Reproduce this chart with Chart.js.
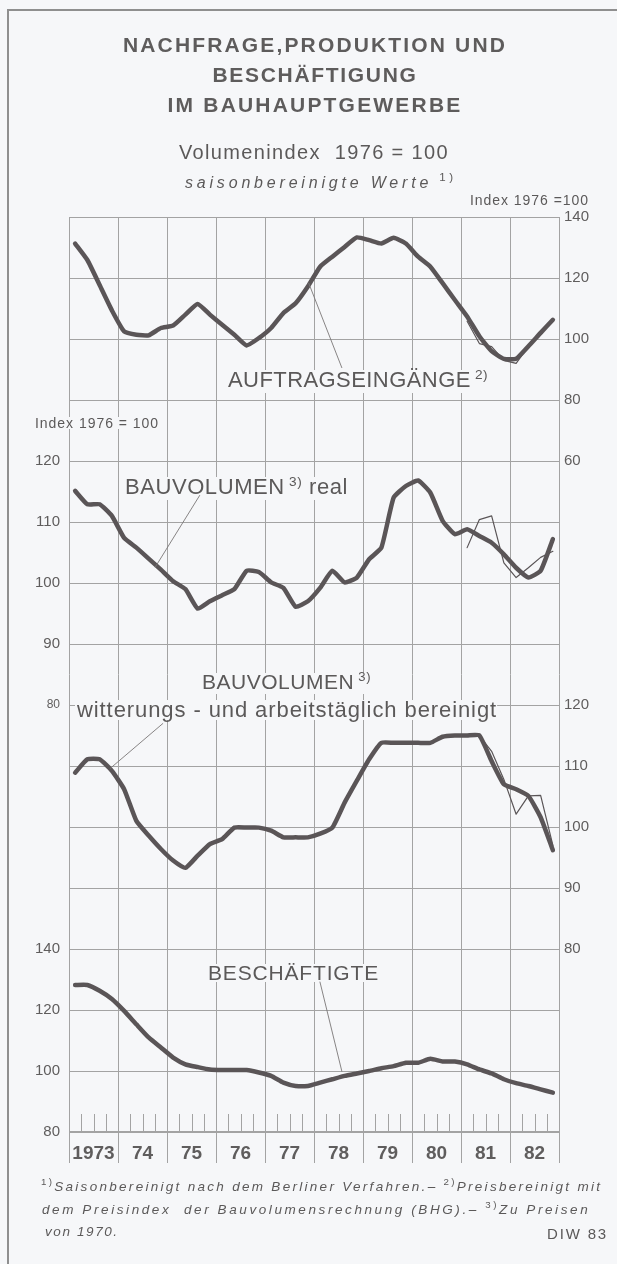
<!DOCTYPE html>
<html><head><meta charset="utf-8">
<script src="https://cdn.jsdelivr.net/npm/chart.js@4.4.1/dist/chart.umd.min.js"></script>
<style>
html,body{margin:0;padding:0;background:#f6f7f9;}
#wrap{position:relative;width:617px;height:1264px;overflow:hidden;background:#f6f7f9;font-family:'Liberation Sans',Arial,sans-serif;color:#5b5959;}
#frame{position:absolute;left:7px;top:9px;width:700px;height:1400px;border-left:2px solid #8f8f8f;border-top:2px solid #8f8f8f;}
#c{position:absolute;left:0;top:0;}
.t{position:absolute;white-space:nowrap;z-index:2;}
.t sup{font-size:62%;vertical-align:0;position:relative;top:-0.6em;}
.it{font-style:italic;}
.it sup{font-style:normal;font-size:72%;}
</style></head><body><div id="wrap">
<div id="frame"></div>
<canvas id="c" width="617" height="1264"></canvas>

<div class="t fit" style="left:315px;top:34px;font-size:21px;line-height:22px;font-weight:bold;color:#5e5c5c;transform:translateX(-50%)" data-w="384">NACHFRAGE,PRODUKTION UND</div>
<div class="t fit" style="left:315px;top:64px;font-size:21px;line-height:22px;font-weight:bold;color:#5e5c5c;transform:translateX(-50%)" data-w="205">BESCHÄFTIGUNG</div>
<div class="t fit" style="left:315px;top:94px;font-size:21px;line-height:22px;font-weight:bold;color:#5e5c5c;transform:translateX(-50%)" data-w="295">IM BAUHAUPTGEWERBE</div>
<div class="t fit" style="left:314px;top:141px;font-size:20px;line-height:22px;transform:translateX(-50%)" data-w="270">Volumenindex&nbsp; 1976 = 100</div>
<div class="t fit it" style="left:321px;top:174px;font-size:16px;line-height:18px;transform:translateX(-50%)" data-w="272">saisonbereinigte Werte<sup>&nbsp;1)</sup></div>
<div class="t fit" style="right:28px;top:192px;font-size:14px;line-height:16px;" data-w="119">Index 1976 =100</div>
<div class="t fit mask" style="left:35px;top:415px;font-size:14px;line-height:16px;" data-w="124">Index 1976 = 100</div>

<div class="t fit mask" style="left:228px;top:368px;font-size:22px;line-height:24px;" data-w="260">AUFTRAGSEINGÄNGE<sup>&nbsp;2)</sup></div>
<div class="t fit mask" style="left:125px;top:475px;font-size:22px;line-height:24px;" data-w="223">BAUVOLUMEN<sup>&nbsp;3)</sup> real</div>
<div class="t fit mask" style="left:202px;top:671px;font-size:21px;line-height:22px;" data-w="169">BAUVOLUMEN<sup>&nbsp;3)</sup></div>
<div class="t fit mask" style="left:77px;top:698px;font-size:22px;line-height:24px;" data-w="420">witterungs - und arbeitstäglich bereinigt</div>
<div class="t fit mask" style="left:208px;top:962px;font-size:21px;line-height:22px;" data-w="171">BESCHÄFTIGTE</div>

<div class="t fit it" style="left:41px;top:1179px;font-size:13.5px;line-height:16px;" data-w="561"><sup>1)</sup>Saisonbereinigt nach dem Berliner Verfahren.– <sup>2)</sup>Preisbereinigt mit</div>
<div class="t fit it" style="left:42px;top:1202px;font-size:13.5px;line-height:16px;" data-w="548">dem Preisindex&nbsp; der Bauvolumensrechnung (BHG).– <sup>3)</sup>Zu Preisen</div>
<div class="t it" style="left:45px;top:1224px;font-size:13.5px;line-height:16px;letter-spacing:1.6px;">von 1970.</div>
<div class="t fit" style="right:9px;top:1226px;font-size:15px;line-height:16px;" data-w="61">DIW 83</div>
</div>
<script>
// ---- data (quarterly, saisonbereinigt) ----
const years = ['1973','74','75','76','77','78','79','80','81','82'];
const quarterNames = ['I','II','III','IV'];
const quarterCats = years.flatMap(y => quarterNames.map(q => y + ' ' + q));

const auftrag = [131.3,125.9,117.7,109.4,102.5,101.4,101.2,103.6,104.4,108,
                 111.5,108,104.7,101.4,97.9,100.3,103.6,108.5,111.7,117.2,
                 123.7,127,130.2,133.3,132.4,131.3,133.2,131.3,127,123.7,
                 118.3,112.8,107.4,100.9,96,93.5,93.5,97.6,102,106.3];
const auftragVariant = [null,null,null,null,null,null,null,null,null,null,
                 null,null,null,null,null,null,null,null,null,null,
                 null,null,null,null,null,null,null,null,null,null,
                 null,null,105.8,98.5,97.5,93,92,97.6,null,null];
const bauReal = [115.1,112.9,112.9,111,107.4,105.8,104,102.2,100.3,99,
                 95.8,97,98,99,102,101.8,100.1,99.2,96.1,97,
                 99.2,102,100.1,100.9,103.9,105.8,114,115.9,116.8,114.8,
                 110.2,108,108.8,107.7,106.6,104.7,102.5,100.9,102,107.2];
const bauRealVariant = [null,null,null,null,null,null,null,null,null,null,
                 null,null,null,null,null,null,null,null,null,null,
                 null,null,null,null,null,null,null,null,null,null,
                 null,null,105.8,110.4,111,103.3,100.9,102.5,104.2,105.2];
const bauWitt = [108.9,111.1,111.1,109.2,106.2,101,98.6,96.4,94.5,93.3,
                 95.3,97.2,98,99.9,99.9,99.9,99.4,98.3,98.3,98.3,
                 98.9,99.9,104,107.6,111.1,113.8,113.8,113.8,113.8,113.8,
                 114.8,115,115,115,110.8,107,106.2,105.1,101.6,96.2];
const bauWittVariant = [null,null,null,null,null,null,null,null,null,null,
                 null,null,null,null,null,null,null,null,null,null,
                 null,null,null,null,null,null,null,null,null,null,
                 null,null,null,115,112.4,107.8,102.1,105.1,105.2,97];
const besch = [128.2,128.2,126.3,123.6,119.7,115.3,111,107.7,104.4,102.2,
               101.3,100.5,100.3,100.3,100.3,99.5,98.4,96.2,95.1,95.1,
               96.2,97.3,98.4,99.2,100,100.9,101.6,102.7,102.7,104,
               103.1,103.1,102.2,100.5,99.2,97.3,96,95.1,94,92.9];

const auftragTicks = [60,80,100,120,140];
const bauRealTicks = [80,90,100,110,120];
const bauWittTicks = [80,90,100,110,120];
const beschTicks   = [80,100,120,140];

// ---- styling / layout ----
const BG = '#f6f7f9', LINE = '#5a5557', GRID = '#a3a3a3', TXT = '#5f5d5d';
const FONT = "'Liberation Sans', Arial, sans-serif";
const ROWS = 15;   // grid rows over the whole plot height
// value ranges of the four overlaid series axes (each spans the full plot height)
const rangeA = {min:-160, max:140}, rangeB = {min:10, max:160},
      rangeC = {min:50, max:200},  rangeD = {min:80, max:380};
const leftSide  = [{r:rangeB, t:bauRealTicks, small:80}, {r:rangeD, t:beschTicks}];
const rightSide = [{r:rangeA, t:auftragTicks}, {r:rangeC, t:bauWittTicks}];

function fitText(){
  document.querySelectorAll('.fit').forEach(el => {
    el.style.letterSpacing = '0px';
    const w = el.getBoundingClientRect().width;
    const n = el.textContent.length;
    const ls = (parseFloat(el.dataset.w) - w) / n;
    el.style.letterSpacing = ls.toFixed(2) + 'px';
  });
}

// leader lines: x in years (x2 scale), y in the series' own axis units
const leaders = [
  {ax:'yA', x1:5.57, y1:90.5,  x2:4.89, y2:118.4},
  {ax:'yB', x1:2.67, y1:114.4, x2:1.76, y2:102.6},
  {ax:'yC', x1:1.92, y1:117.0, x2:0.84, y2:109.6},
  {ax:'yD', x1:5.12, y1:129.3, x2:5.57, y2:99.8}
];

const deco = {
  id:'deco',
  beforeDatasetsDraw(chart){
    const c = chart.ctx, a = chart.chartArea, xs = chart.scales.x2;
    const wr = document.getElementById('wrap').getBoundingClientRect();
    c.save();
    c.fillStyle = BG;
    document.querySelectorAll('.mask').forEach(el => {
      const r = el.getBoundingClientRect();
      c.fillRect(r.left - wr.left - 2, r.top - wr.top + 2, r.width + 2, r.height - 4);
    });
    c.strokeStyle = GRID; c.lineWidth = 1;
    for (let y = 0; y < years.length; y++) {
      for (let q = 1; q < 4; q++) {
        const px = Math.round(xs.getPixelForValue(y + q/4)) + 0.5;
        c.beginPath(); c.moveTo(px, a.bottom); c.lineTo(px, a.bottom - 18); c.stroke();
      }
    }
    c.restore();
  },
  afterDatasetsDraw(chart){
    const c = chart.ctx, xs = chart.scales.x2;
    c.save();
    c.strokeStyle = '#7a7777'; c.lineWidth = 0.9;
    leaders.forEach(l => {
      const ys = chart.scales[l.ax];
      c.beginPath();
      c.moveTo(xs.getPixelForValue(l.x1), ys.getPixelForValue(l.y1));
      c.lineTo(xs.getPixelForValue(l.x2), ys.getPixelForValue(l.y2));
      c.stroke();
    });
    c.restore();
  }
};

function zeroW(s){ s.width = 0; }
function hiddenAxis(pos, rng){
  return {type:'linear', position:pos, min:rng.min, max:rng.max, display:false};
}
// visible label axis in grid-row units; its ticks come from the series tick arrays
function labelAxis(pos, side, width){
  return {
    type:'linear', position:pos, min:0, max:ROWS,
    afterBuildTicks: s => {
      const t = [];
      side.forEach(sd => sd.t.forEach(v => t.push({
        value: (v - sd.r.min) / (sd.r.max - sd.r.min) * ROWS, lab: v, small: sd.small === v
      })));
      t.sort((p, q) => p.value - q.value);
      s.ticks = t;
    },
    afterFit: s => { s.width = width; },
    grid:{display:false, drawTicks:false},
    border:{display:false},
    ticks:{
      autoSkip:false, padding: pos === 'left' ? 9 : 5, color:TXT,
      font: c => ({size: (c.tick && c.tick.small) ? 12 : 15, family:FONT}),
      callback: (v, i, t) => String(t[i].lab)
    }
  };
}

function build(){
  fitText();
  const thick = {borderColor:LINE, borderWidth:4.5, xAxisID:'x'};
  const thin = {borderColor:LINE, borderWidth:1.2, xAxisID:'x', tension:0};
  new Chart(document.getElementById('c'), {
    type:'line',
    data:{
      labels: quarterCats,
      datasets:[
        Object.assign({label:'Auftragseingänge', data:auftrag, yAxisID:'yA'}, thick),
        Object.assign({label:'Auftragseingänge (vorläufig)', data:auftragVariant, yAxisID:'yA'}, thin),
        Object.assign({label:'Bauvolumen real', data:bauReal, yAxisID:'yB'}, thick),
        Object.assign({label:'Bauvolumen real (vorläufig)', data:bauRealVariant, yAxisID:'yB'}, thin),
        Object.assign({label:'Bauvolumen bereinigt', data:bauWitt, yAxisID:'yC'}, thick),
        Object.assign({label:'Bauvolumen bereinigt (vorläufig)', data:bauWittVariant, yAxisID:'yC'}, thin),
        Object.assign({label:'Beschäftigte', data:besch, yAxisID:'yD'}, thick)
      ]
    },
    options:{
      responsive:false, animation:false, devicePixelRatio:1,
      layout:{padding:{left:0, right:0, top:217, bottom:0}},
      plugins:{legend:{display:false}, tooltip:{enabled:false}},
      elements:{point:{radius:0}, line:{tension:0.15, borderCapStyle:'round', borderJoinStyle:'round'}},
      scales:{
        x:{type:'category', offset:true, display:false},
        x2:{
          type:'linear', position:'bottom', min:0, max:years.length,
          afterBuildTicks: s => { const t=[]; for (let v=0; v<=years.length; v+=0.5) t.push({value:v}); s.ticks=t; },
          afterFit: s => { s.height = 132; },
          grid:{
            color: ctx => (ctx.tick && Number.isInteger(ctx.tick.value)) ? GRID : 'rgba(0,0,0,0)',
            tickColor: ctx => (ctx.tick && Number.isInteger(ctx.tick.value)) ? GRID : 'rgba(0,0,0,0)',
            lineWidth:1, drawTicks:true, tickLength:31
          },
          border:{display:false},
          ticks:{
            autoSkip:false, maxRotation:0, minRotation:0, padding:-21, color:TXT,
            font:{size:19, weight:'bold', family:FONT},
            callback: v => Number.isInteger(v) ? '' : years[Math.floor(v)]
          }
        },
        yL: labelAxis('left', leftSide, 69),
        yR: labelAxis('right', rightSide, 58),
        yG:{
          type:'linear', position:'left', min:0, max:ROWS,
          afterBuildTicks: s => { const t=[]; for (let v=0; v<=ROWS; v++) t.push({value:v}); s.ticks=t; },
          afterFit: zeroW,
          ticks:{display:false},
          grid:{color:GRID, lineWidth: ctx => (ctx.tick && ctx.tick.value === 0) ? 2 : 1, drawTicks:false},
          border:{display:false}
        },
        yA: hiddenAxis('right', rangeA),
        yB: hiddenAxis('left', rangeB),
        yC: hiddenAxis('right', rangeC),
        yD: hiddenAxis('left', rangeD)
      }
    },
    plugins:[deco]
  });
}
if (document.fonts && document.fonts.ready) { document.fonts.ready.then(build); } else { window.addEventListener('load', build); }
</script>
</body></html>
